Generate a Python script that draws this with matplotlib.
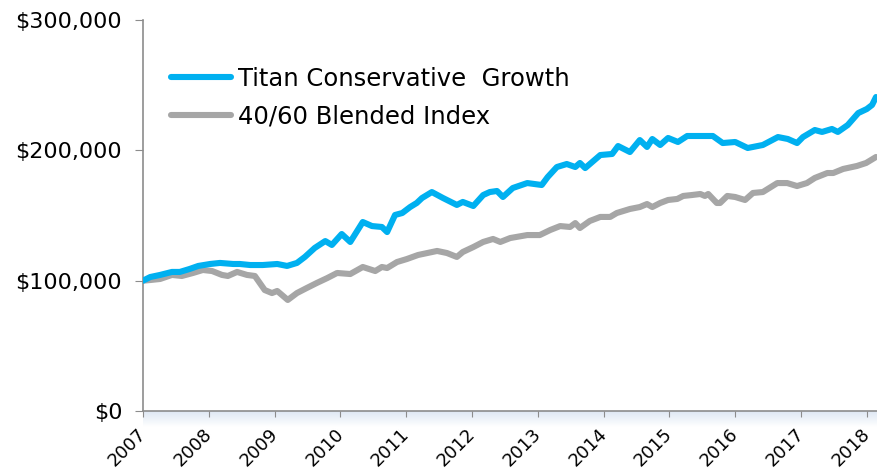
import matplotlib
matplotlib.use("Agg")
import matplotlib.pyplot as plt
from matplotlib.ticker import FuncFormatter
from matplotlib.colors import LinearSegmentedColormap
from matplotlib.transforms import ScaledTranslation
import numpy as np

# ---- data (decimal years, values in $ thousands) ----
titan_dates = [2007.00, 2007.11, 2007.26, 2007.44, 2007.56, 2007.71, 2007.84, 2008.02, 2008.17,
               2008.37, 2008.47, 2008.63, 2008.82, 2009.04, 2009.19, 2009.34, 2009.46, 2009.61,
               2009.77, 2009.87, 2010.02, 2010.15, 2010.34, 2010.48, 2010.63, 2010.71, 2010.83,
               2010.94, 2011.06, 2011.16, 2011.24, 2011.39, 2011.56, 2011.77, 2011.86, 2012.02,
               2012.17, 2012.27, 2012.38, 2012.47, 2012.62, 2012.84, 2013.06, 2013.15, 2013.29,
               2013.44, 2013.57, 2013.64, 2013.72, 2013.95, 2014.13, 2014.22, 2014.40, 2014.55,
               2014.66, 2014.74, 2014.86, 2014.98, 2015.13, 2015.27, 2015.50, 2015.66, 2015.81,
               2016.00, 2016.19, 2016.42, 2016.65, 2016.80, 2016.94, 2017.03, 2017.21, 2017.32,
               2017.47, 2017.56, 2017.71, 2017.87, 2018.00, 2018.08, 2018.14]
titan_values = [100.0, 102.8, 104.4, 106.7, 106.7, 109.0, 111.3, 112.8, 113.6,
                112.8, 112.8, 112.0, 112.0, 112.8, 111.3, 113.6, 118.2, 125.1,
                130.4, 127.4, 135.8, 129.7, 145.0, 141.9, 141.2, 137.3, 150.4,
                151.9, 156.5, 159.6, 163.4, 168.0, 163.4, 158.1, 160.4, 157.3,
                165.7, 168.0, 168.8, 164.2, 171.1, 174.9, 173.4, 179.5, 187.2,
                189.5, 187.2, 190.3, 186.4, 196.4, 197.2, 203.3, 198.7, 207.9,
                202.6, 208.7, 204.1, 209.5, 206.4, 211.0, 211.0, 211.0, 205.6,
                206.4, 201.8, 204.1, 210.2, 208.7, 205.6, 210.2, 215.6, 214.1,
                216.4, 214.1, 219.4, 228.6, 231.7, 234.8, 240.9]

blend_dates = [2007.00, 2007.11, 2007.26, 2007.44, 2007.59, 2007.76, 2007.91, 2008.05, 2008.20,
               2008.29, 2008.43, 2008.58, 2008.70, 2008.85, 2008.96, 2009.04, 2009.20, 2009.34,
               2009.49, 2009.64, 2009.80, 2009.95, 2010.15, 2010.34, 2010.53, 2010.63, 2010.71,
               2010.86, 2011.01, 2011.18, 2011.32, 2011.47, 2011.62, 2011.77, 2011.86, 2012.02,
               2012.17, 2012.32, 2012.43, 2012.58, 2012.84, 2013.03, 2013.19, 2013.34, 2013.49,
               2013.57, 2013.64, 2013.79, 2013.95, 2014.10, 2014.20, 2014.40, 2014.55, 2014.66,
               2014.74, 2014.86, 2014.98, 2015.12, 2015.21, 2015.34, 2015.47, 2015.54, 2015.59,
               2015.72, 2015.77, 2015.88, 2016.00, 2016.15, 2016.27, 2016.42, 2016.64, 2016.79,
               2016.94, 2017.09, 2017.21, 2017.40, 2017.49, 2017.64, 2017.85, 2017.99, 2018.14]
blend_values = [100.0, 100.5, 101.3, 104.4, 103.6, 105.9, 108.2, 107.4, 104.4,
                103.6, 106.7, 104.4, 103.6, 92.8, 90.5, 92.1, 85.2, 90.5,
                94.4, 98.2, 102.0, 105.9, 105.1, 110.5, 107.4, 110.5, 109.7,
                114.3, 116.6, 119.7, 121.2, 122.8, 121.2, 118.2, 122.0, 125.8,
                129.7, 132.0, 129.7, 132.7, 135.0, 135.0, 138.9, 141.9, 141.2,
                144.2, 140.4, 145.8, 148.9, 148.9, 151.9, 155.0, 156.5, 158.8,
                156.5, 159.6, 161.9, 162.7, 165.0, 165.7, 166.5, 165.0, 166.5,
                159.6, 159.6, 165.0, 164.2, 161.9, 167.3, 168.0, 174.9, 174.9,
                172.6, 174.9, 178.8, 182.6, 182.6, 185.7, 188.0, 190.3, 194.9]

series_names = ["Titan Conservative  Growth", "40/60 Blended Index"]
year_ticks = list(range(2007, 2019))
y_ticks = [0, 100000, 200000, 300000]

# ---- figure ----
W, H = 877, 476
fig = plt.figure(figsize=(W / 100, H / 100), dpi=100)

# faint shadow strip under the plot area
shade_ax = fig.add_axes([143 / W, 1 - 427 / H, 1 - 143 / W, 16 / H], zorder=0)
shade_cmap = LinearSegmentedColormap.from_list("shade", ["#FFFFFF", "#D6E2F1"])
grad = np.linspace(0, 1, 64)[:, None] * np.ones((1, 8))
shade_ax.imshow(grad, aspect="auto", cmap=shade_cmap, origin="lower",
                extent=[0, 1, 0, 1], vmin=0, vmax=1.25)
shade_ax.set_axis_off()

ax = fig.add_axes([143 / W, 1 - 411 / H, 1 - 143 / W, (411 - 20) / H], zorder=1)
ax.patch.set_alpha(0)

ax.plot(titan_dates, np.array(titan_values) * 1000, color="#00B0F0", lw=4.4,
        solid_joinstyle="round", solid_capstyle="round", label=series_names[0], zorder=3)
ax.plot(blend_dates, np.array(blend_values) * 1000, color="#A6A6A6", lw=4.4,
        solid_joinstyle="round", solid_capstyle="round", label=series_names[1], zorder=2)

ax.set_xlim(2007, 2007 + (W - 143) / 65.8)
ax.set_ylim(0, 300000)
ax.set_xticks(year_ticks)
ax.tick_params(axis="x", length=4.5, color="#8C8C8C", labelbottom=False)

# rotated year labels, placed at the tick positions with a small pixel offset
lbl_offset = ScaledTranslation(-6 / 100, -14 / 100, fig.dpi_scale_trans)
for yr in year_ticks:
    ax.text(yr, 0, str(yr), transform=ax.get_xaxis_transform() + lbl_offset,
            rotation=45, ha="right", va="top", rotation_mode="anchor",
            fontsize=13, clip_on=False)

ax.set_yticks(y_ticks)
ax.yaxis.set_major_formatter(FuncFormatter(lambda v, p: "$" + format(int(v), ",")))
ax.tick_params(axis="y", labelsize=16, length=6, color="#8C8C8C", pad=9)

for s in ["top", "right"]:
    ax.spines[s].set_visible(False)
for s in ["left", "bottom"]:
    ax.spines[s].set_color("#8C8C8C")
    ax.spines[s].set_linewidth(1.2)

leg = ax.legend(loc="upper left", bbox_to_anchor=(0.025, 0.905), frameon=False,
                fontsize=17.5, handlelength=2.45, handletextpad=0.3, labelspacing=0.55,
                borderaxespad=0)

fig.savefig("out.png", dpi=100)
